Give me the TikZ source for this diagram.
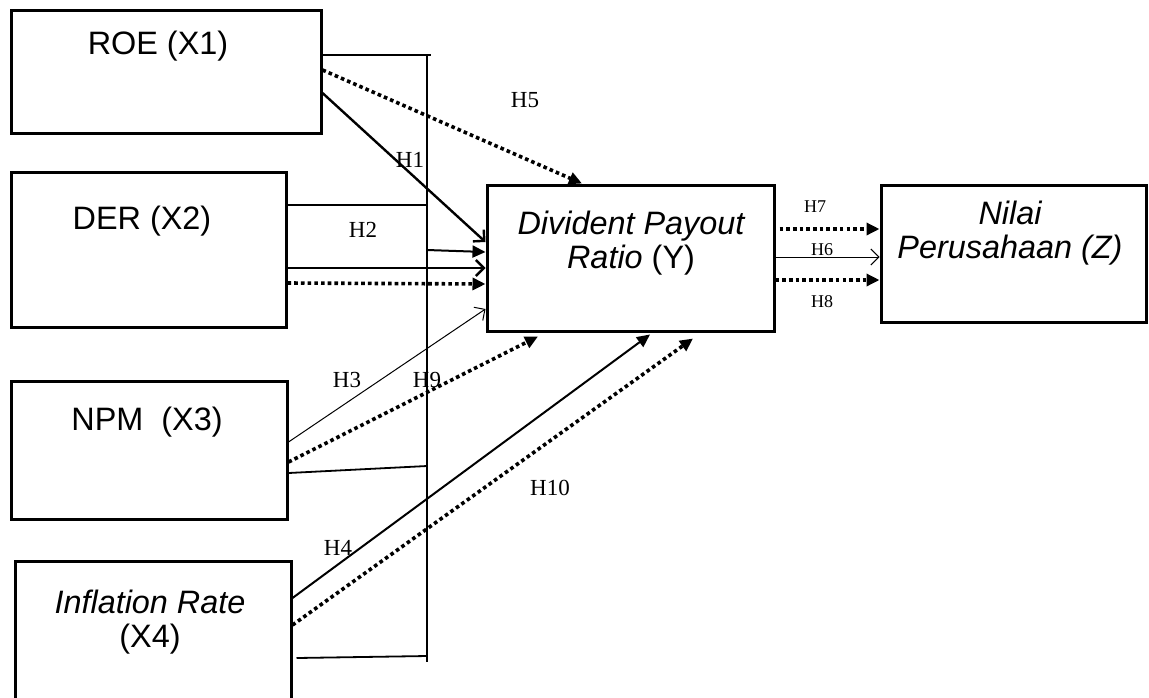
\documentclass[tikz,border=0pt]{standalone}
\usepackage{fontspec}
\setmainfont{Liberation Serif}
\newfontfamily\arialfont{Liberation Sans}
\usetikzlibrary{calc,arrows.meta}

\begin{document}
\begin{tikzpicture} [x=0.5pt,y=-0.5pt,line join=miter]
  \tikzstyle{varbox}=[draw,line width=1.5pt,rectangle,inner sep=0pt]
  \tikzstyle{boxtext}=[font=\arialfont\fontsize{16.2}{17}\selectfont,align=center,inner sep=0pt,anchor=base]
  \tikzstyle{hyp}=[font=\fontsize{11.5}{12}\selectfont,inner sep=0pt]
  \tikzstyle{hypsmall}=[font=\fontsize{9}{10}\selectfont,inner sep=0pt]
  \tikzstyle{dotarr}=[line width=1.8pt,dash pattern=on 1.8pt off 1.55pt,-{Triangle[length=6.5pt,width=6pt]}]
  \tikzstyle{solidarr}=[line width=1pt,-{Triangle[length=6.5pt,width=6pt]}]
  \tikzstyle{openarr}=[line width=1.2pt,-{Straight Barb[length=4pt,width=8pt]}]
  \tikzstyle{thinarr}=[line width=0.5pt,-{Straight Barb[length=4pt,width=8pt]}]
  \tikzstyle{bus}=[line width=0.9pt]

  \useasboundingbox (0,0) rectangle (1149,697);
  \clip (0,0) rectangle (1149,697);

  \node[varbox,minimum width=155pt,minimum height=61.5pt] (roe) at (166,71.5) {};
  \node[varbox,minimum width=137.5pt,minimum height=77.5pt] (der) at (148.5,249.5) {};
  \node[varbox,minimum width=138pt,minimum height=69pt] (npm) at (149,450) {};
  \node[varbox,minimum width=138pt,minimum height=89.5pt] (infl) at (153,650.5) {};
  \node[varbox,minimum width=143.5pt,minimum height=73pt] (dpr) at (630.5,258) {};
  \node[varbox,minimum width=132.5pt,minimum height=68.5pt] (nilai) at (1013.5,253.5) {};

  \node[boxtext] (roe-t) at (158,54) {ROE (X1)};
  \node[boxtext] (der-t) at (142,229) {DER (X2)};
  \node[boxtext] (npm-t) at (147,430) {NPM\ \ (X3)};
  \node[boxtext] (infl-t) at (150,647) {\itshape Inflation Rate\\(X4)};
  \node[boxtext] (dpr-t) at (631,268) {\itshape Divident Payout\\\textit{Ratio} (Y)};
  \node[boxtext] (nilai-t) at (1010,258) {\itshape Nilai\\\itshape Perusahaan (Z)};

  \coordinate (bus-top) at (427,55);
  \coordinate (bus-bot) at (427,662);
  \draw[bus] (roe.east |- bus-top) -- ([xshift=2pt]bus-top);
  \draw[bus] (bus-top) -- (bus-bot);
  \draw[bus] (der.east |- 0,205) -- (bus-top |- 0,205);
  \draw[bus] (npm.east |- 0,473) -- (bus-top |- 0,466);
  \draw[bus] ([xshift=2pt]infl.east |- 0,658) -- (bus-bot |- 0,656);

  \draw[dotarr] (roe.east |- 0,70) -- (dpr.north -| 582,0);
  \draw[openarr] (roe.east |- 0,93) -- (dpr.west |- 0,242);
  \draw[solidarr] (bus-top |- 0,250) -- (dpr.west |- 0,252);
  \draw[openarr] (der.east |- 0,268) -- (dpr.west |- 0,268);
  \draw[dotarr] (der.east |- 0,283) -- (dpr.west |- 0,284);
  \draw[thinarr] (npm.east |- 0,442) -- (dpr.west |- 0,309);
  \draw[dotarr] (npm.east |- 0,462) -- ($(dpr.south -| 538,0)+(0,4)$);
  \draw[solidarr] (infl.east |- 0,598) -- ($(dpr.south -| 650,0)+(0,2)$);
  \draw[dotarr] (infl.east |- 0,625) -- ($(dpr.south -| 693,0)+(0,6)$);
  \draw[dotarr] ([xshift=2pt]dpr.east |- 0,229) -- (nilai.west |- 0,229);
  \draw[thinarr] (dpr.east |- 0,257) -- (nilai.west |- 0,257);
  \draw[dotarr] (dpr.east |- 0,280) -- (nilai.west |- 0,280);

  \node[hyp] (h1) at (410,160) {H1};
  \node[hyp] (h2) at (363,230) {H2};
  \node[hyp] (h3) at (347,380) {H3};
  \node[hyp] (h4) at (338,548) {H4};
  \node[hyp] (h5) at (525,100) {H5};
  \node[hyp] (h9) at (427,380) {H9};
  \node[hyp] (h10) at (550,488) {H10};
  \node[hypsmall] (h7) at (815,207) {H7};
  \node[hypsmall] (h6) at (822,250) {H6};
  \node[hypsmall] (h8) at (822,302) {H8};

\end{tikzpicture}
\end{document}
